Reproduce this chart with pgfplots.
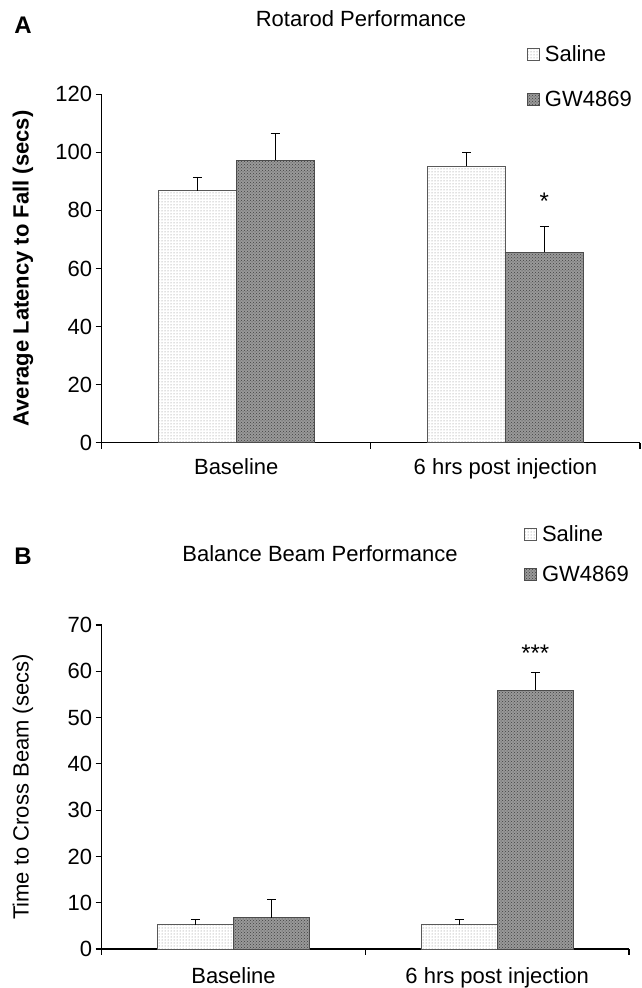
\documentclass[border=0pt]{standalone}
\usepackage{pgfplots}
\pgfplotsset{compat=1.18}
\usepackage{pgfplotstable}
\usepackage{fontspec}
\setmainfont{Liberation Sans}
\usetikzlibrary{patterns}
\newcommand\ff{\fontsize{22}{26}\selectfont}

% bars are placed at their own x (category -/+ half a bar width)
\pgfplotstableread{
x y e
-0.1445 86.7 4.8
0.8555 95.2 4.7
}\salA
\pgfplotstableread{
x y e
0.1445 97.3 9.2
1.1445 65.5 9.0
}\gwA
\pgfplotstableread{
x y e
-0.1445 5.25 1.15
0.8555 5.25 1.15
}\salB
\pgfplotstableread{
x y e
0.1445 6.8 4.0
1.1445 55.9 3.8
}\gwB

\pgfplotsset{
  salstyle/.style={draw=black!65, line width=0.8pt, fill=white,
    postaction={pattern=dots, pattern color=gray}},
  gwstyle/.style={draw=black!70, line width=0.8pt, fill=black!40,
    postaction={pattern=crosshatch dots, pattern color=black!75}},
  errstyle/.style={error bars/.cd, y dir=plus, y explicit,
    error bar style={line width=0.9pt, black},
    error mark options={rotate=90, mark size=4.5pt, line width=0.9pt, black}},
  common/.style={
    scale only axis, xmin=-0.5, xmax=1.5, ymin=0,
    axis lines*=left,
    axis line style={line width=1.2pt, black},
    tick style={black, line width=1.2pt},
    tick align=outside, major tick length=6pt,
    xtick={-0.5,0.5,1.5}, xticklabels={,,},
    extra x ticks={0,1},
    extra x tick labels={Baseline,6 hrs post injection},
    extra x tick style={major tick length=0pt},
    ticklabel style={font=\ff},
    /pgf/number format/assume math mode=true,
    clip=false,
    legend style={draw=none, fill=none, font=\ff, inner sep=0pt,
      anchor=north west, cells={anchor=west}},
    legend image code/.code={\draw[##1] (0pt,-6pt) rectangle (12pt,6pt); \path (15pt,0pt);},
  },
}

\begin{document}
\begin{tikzpicture}
\path[use as bounding box] (0pt,0pt) rectangle (641pt,988pt);

% Panel labels
\node[font=\fontsize{24}{28}\selectfont\bfseries] at (23pt,962.5pt) {A};
\node[font=\fontsize{24}{28}\selectfont\bfseries] at (23pt,432pt) {B};

% Panel A
\begin{axis}[common,
  at={(101.7pt,545.3pt)}, anchor=south west,
  width=538.3pt, height=348.5pt,
  ymax=120, ytick={0,20,...,120},
  xticklabel style={yshift=-12pt},
  title={Rotarod Performance},
  title style={at={(0.4817,1.1986)}, anchor=center, font=\ff},
  ylabel={\textbf{Average Latency to Fall (secs)}},
  ylabel style={at={(-0.1462,0.5)}, anchor=center, font=\ff},
  legend style={at={(0.790,1.1455)}, row sep=24pt},
]
\addplot[ybar, bar width=0.289, bar shift=0, salstyle, errstyle]
  table[x=x, y=y, y error=e] {\salA};
\addlegendentry{Saline}
\addplot[ybar, bar width=0.289, bar shift=0, gwstyle, errstyle]
  table[x=x, y=y, y error=e] {\gwA};
\addlegendentry{GW4869}
\node[font=\fontsize{24}{28}\selectfont, anchor=base] at (axis cs:1.1445,80.2) {*};
\end{axis}

% Panel B
\begin{axis}[common,
  at={(101.7pt,39pt)}, anchor=south west,
  width=527.3pt, height=324pt,
  ymax=70, ytick={0,10,...,70},
  xticklabel style={yshift=-15pt},
  title={Balance Beam Performance},
  title style={at={(0.414,1.2006)}, anchor=center, font=\ff},
  ylabel={Time to Cross Beam (secs)},
  ylabel style={at={(-0.1493,0.5)}, anchor=center, font=\ff},
  legend style={at={(0.801,1.313)}, row sep=19pt},
]
\addplot[ybar, bar width=0.289, bar shift=0, salstyle, errstyle]
  table[x=x, y=y, y error=e] {\salB};
\addlegendentry{Saline}
\addplot[ybar, bar width=0.289, bar shift=0, gwstyle, errstyle]
  table[x=x, y=y, y error=e] {\gwB};
\addlegendentry{GW4869}
\node[font=\fontsize{24}{28}\selectfont, anchor=base] at (axis cs:1.1445,62.2) {***};
\end{axis}
\end{tikzpicture}
\end{document}
